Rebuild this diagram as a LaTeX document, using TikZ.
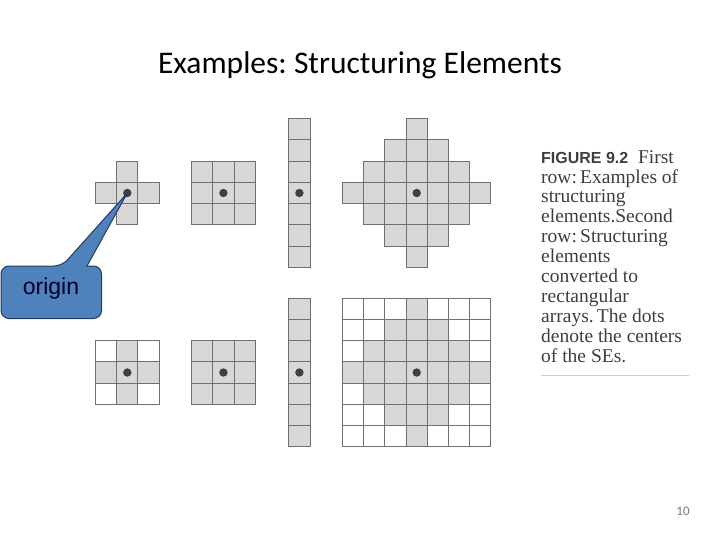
\documentclass[tikz,border=0pt]{standalone}
\usepackage{fontspec}
\usepackage{xcolor}
\usepackage{tikz}
\setmainfont{Liberation Serif}
\newfontfamily\titlefont{Carlito}
\newfontfamily\labelfont{Liberation Sans}
\definecolor{cellgray}{RGB}{217,216,216}
\definecolor{cellline}{RGB}{112,112,112}
\definecolor{dotgray}{RGB}{64,64,64}
\definecolor{calloutblue}{RGB}{79,129,189}
\definecolor{calloutedge}{RGB}{38,58,96}
\definecolor{captext}{RGB}{62,62,62}
\definecolor{rulegray}{RGB}{205,205,205}
\definecolor{pagegray}{RGB}{120,120,120}
\usetikzlibrary{calc}

\tikzset{
  secell/.style={fill=cellgray, draw=cellline, line width=1pt},
  emptycell/.style={fill=white, draw=cellline, line width=1pt},
  sedot/.style={fill=dotgray},
}

\begin{document}
\frenchspacing
\begin{tikzpicture}[x=1pt, y=-1pt]
    \useasboundingbox (0,0) rectangle (720,540);
    % Title
    \node[anchor=base, inner sep=0pt] (title) at (360,73.3) {\titlefont\fontsize{31.5}{36}\selectfont Examples: Structuring Elements};

    % First row: the structuring elements
    \begin{scope}[shift={(127.3,193)}, x=21.2pt, y=-21.2pt]
      \foreach \i/\j in {0/-1, -1/0, 0/0, 1/0, 0/1}
        \draw[secell] (\i-0.5,\j-0.5) rectangle (\i+0.5,\j+0.5);
      \coordinate (dotA) at (0,0);
    \end{scope}
    \begin{scope}[shift={(223.4,193)}, x=21.2pt, y=-21.2pt]
      \foreach \i in {-1,0,1}
        \foreach \j in {-1,0,1}
          \draw[secell] (\i-0.5,\j-0.5) rectangle (\i+0.5,\j+0.5);
      \coordinate (dotB) at (0,0);
    \end{scope}
    \begin{scope}[shift={(299.4,193)}, x=21.2pt, y=-21.2pt]
      \foreach \j in {-3,...,3}
        \draw[secell] (-0.5,\j-0.5) rectangle (0.5,\j+0.5);
      \coordinate (dotC) at (0,0);
    \end{scope}
    \begin{scope}[shift={(416.7,193)}, x=21.2pt, y=-21.2pt]
      \foreach \i in {-3,...,3}
        \foreach \j in {-3,...,3} {
          \pgfmathtruncatemacro\d{abs(\i)+abs(\j)}
          \ifnum\d<4 \draw[secell] (\i-0.5,\j-0.5) rectangle (\i+0.5,\j+0.5); \fi
        }
      \coordinate (dotD) at (0,0);
    \end{scope}

    % Second row: converted to rectangular arrays
    \begin{scope}[shift={(127.3,372.5)}, x=21.2pt, y=-21.2pt]
      \foreach \i in {-1,0,1}
        \foreach \j in {-1,0,1}
          \draw[emptycell] (\i-0.5,\j-0.5) rectangle (\i+0.5,\j+0.5);
      \foreach \i/\j in {0/-1, -1/0, 0/0, 1/0, 0/1}
        \draw[secell] (\i-0.5,\j-0.5) rectangle (\i+0.5,\j+0.5);
      \coordinate (dotE) at (0,0);
    \end{scope}
    \begin{scope}[shift={(223.4,372.5)}, x=21.2pt, y=-21.2pt]
      \foreach \i in {-1,0,1}
        \foreach \j in {-1,0,1}
          \draw[secell] (\i-0.5,\j-0.5) rectangle (\i+0.5,\j+0.5);
      \coordinate (dotF) at (0,0);
    \end{scope}
    \begin{scope}[shift={(299.4,372.5)}, x=21.2pt, y=-21.2pt]
      \foreach \j in {-3,...,3}
        \draw[secell] (-0.5,\j-0.5) rectangle (0.5,\j+0.5);
      \coordinate (dotG) at (0,0);
    \end{scope}
    \begin{scope}[shift={(416.7,372.5)}, x=21.2pt, y=-21.2pt]
      \foreach \i in {-3,...,3}
        \foreach \j in {-3,...,3} {
          \pgfmathtruncatemacro\d{abs(\i)+abs(\j)}
          \ifnum\d<4 \draw[secell] (\i-0.5,\j-0.5) rectangle (\i+0.5,\j+0.5);
          \else \draw[emptycell] (\i-0.5,\j-0.5) rectangle (\i+0.5,\j+0.5); \fi
        }
      \coordinate (dotH) at (0,0);
    \end{scope}

    % centre dots
    \foreach \p in {dotA,dotB,dotC,dotD,dotE,dotF,dotG,dotH}
      \fill[sedot] (\p) circle (4.2pt);

    % Caption
    \node[anchor=north west, inner sep=0pt, align=left, text=captext,
          font=\fontsize{19.5}{19.9}\selectfont] (cap) at (541,150)
      {{\labelfont\bfseries\fontsize{16}{19.9}\selectfont FIGURE 9.2}\ \ First\\
       row:\,Examples of\\
       structuring\\
       elements.Second\\
       row:\,Structuring\\
       elements\\
       converted to\\
       rectangular\\
       arrays.\,The dots\\
       denote the centers\\
       of the SEs.};
    \draw[rulegray, line width=1pt] (541,375) -- (689,375);

    % Callout
    \draw[fill=calloutblue, draw=calloutedge, line width=1pt]
      (1,292) [rounded corners=8pt] -- (1,266) -- (62,266) [sharp corners]
      -- (dotA) -- (87,266) [rounded corners=8pt] -- (101.5,266)
      -- (101.5,318.5) -- (1,318.5) -- cycle;
    \node[text=black!85!blue] (lbl) at (51,289) {\labelfont\fontsize{23}{27}\selectfont origin};

    % Page number
    \node[text=pagegray] (pgno) at (683,511) {\titlefont\fontsize{13}{15}\selectfont 10};
\end{tikzpicture}
\end{document}
